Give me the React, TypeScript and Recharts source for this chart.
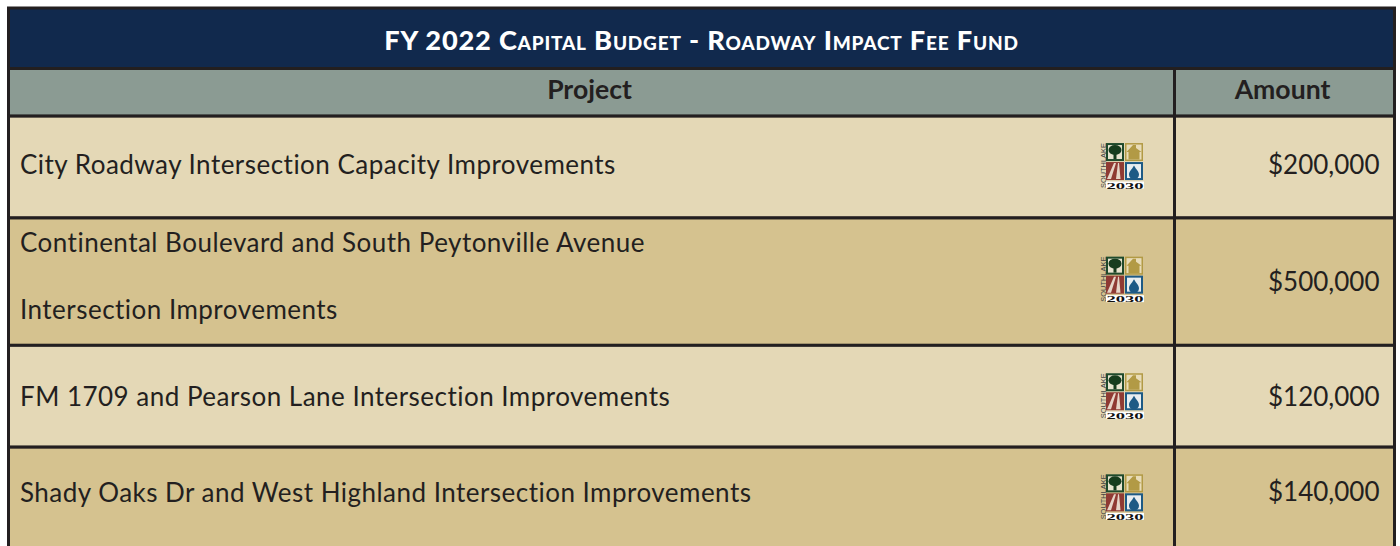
import { BarChart, Bar, XAxis, YAxis } from 'recharts';

const tableTitle = 'FY 2022 Capital Budget - Roadway Impact Fee Fund';
const columns = ['Project', 'Amount'];
const projects = [
  ['City Roadway Intersection Capacity Improvements'],
  ['Continental Boulevard and South Peytonville Avenue', 'Intersection Improvements'],
  ['FM 1709 and Pearson Lane Intersection Improvements'],
  ['Shady Oaks Dr and West Highland Intersection Improvements'],
];
const amounts = [200000, 500000, 120000, 140000];

// layout, not data
const TITLE_H = 60.5;
const HEAD_H = 47.5;
const ROW_H = [101.5, 127, 101.5, 110];
const TEXT_DY = [-2, -5, 1, -9];
const AMOUNT_DY = [-2, 0, 1, -10];
const LOGO_DY = [-1, -2, 0, -5];
const LINE_GAP = 67;

const INK = '#231f20';
const FONT = 'Lato, sans-serif';
const BODY_SIZE = 26;
const fmtUSD = (n: number) => `$${n.toLocaleString('en-US')}`;

const keys = ['head', 'r0', 'r1', 'r2', 'r3'];
const rowData = [
  Object.fromEntries(keys.map((k, i) => [k, i === 0 ? HEAD_H : ROW_H[i - 1]])),
];
const bodyTotal = HEAD_H + ROW_H.reduce((a, b) => a + b, 0);

function Logo({ x, y }: { x: number; y: number }) {
  return (
    <g transform={`translate(${x},${y})`}>
      <text transform="translate(5.5,45) rotate(-90)" fontFamily="Liberation Sans" fontSize={7.5} fill="#444" textLength={45} lengthAdjust="spacingAndGlyphs">
        SOUTHLAKE
      </text>
      <rect x={7} y={1} width={16} height={16} fill="#e8e4cf" stroke="#1f4a2c" strokeWidth={2} />
      <ellipse cx={15} cy={7} rx={6.5} ry={5} fill="#173d1e" />
      <rect x={13.5} y={10} width={3} height={6} fill="#173d1e" />
      <rect x={25} y={0} width={18} height={18} fill="#b29a45" />
      <rect x={26.5} y={1.5} width={15} height={15} fill="#e8dcb8" />
      <path d="M26.5 9L33 2H36V5L41.5 9H39.5V16.5H28.5V9Z" fill="#b29a45" />
      <rect x={6} y={19} width={18} height={18} fill="#8f3a33" />
      <path d="M7 36L14 20H16L11 36Z" fill="#e6d6c8" />
      <path d="M16 36L18 20H19L20.5 36Z" fill="#e6d6c8" />
      <rect x={26} y={20} width={16} height={16} fill="#e9eef0" stroke="#1d5a85" strokeWidth={2} />
      <path d="M34 22.5C36.5 27 39 28.5 39 31.5A5 5 0 0 1 29 31.5C29 28.5 31.5 27 34 22.5Z" fill="#1d5a85" />
      <rect x={6} y={38.5} width={38} height={7} fill="#fff" />
      <text x={6.5} y={45.5} fontFamily="Liberation Serif" fontWeight={700} fontSize={9} fill="#111" textLength={37} lengthAdjust="spacingAndGlyphs">
        2030
      </text>
    </g>
  );
}

function cell(fill: string, render: (b: { x: number; y: number; w: number; h: number }) => any) {
  return (p: any) => {
    const y = Math.min(p.y, p.y + p.height);
    const h = Math.abs(p.height);
    return (
      <g>
        <rect x={p.x} y={y} width={p.width} height={h} fill={fill} stroke={INK} strokeWidth={3} />
        {render({ x: p.x, y, w: p.width, h })}
      </g>
    );
  };
}

const headText = (label: string) => (b: any) => (
  <text x={b.x + b.w / 2 - 2} y={b.y + b.h / 2 + 7} textAnchor="middle" fontFamily={FONT} fontWeight={700} fontSize={26.6} fill={INK}>
    {label}
  </text>
);

function ProjectColumn() {
  return (
    <BarChart width={1180} height={bodyTotal + 70} data={rowData} margin={{ top: 68.5, right: 5.5, bottom: 0, left: 8.5 }} barCategoryGap={0}>
      <XAxis type="category" hide />
      <YAxis type="number" hide reversed domain={[0, bodyTotal]} />
      <Bar dataKey="head" stackId="t" isAnimationActive={false} shape={cell('#8b9b93', headText(columns[0]))} />
      {projects.map((lines, i) => (
        <Bar
          key={i}
          dataKey={`r${i}`}
          stackId="t"
          isAnimationActive={false}
          shape={cell(i % 2 ? '#d5c28f' : '#e4d8b6', (b) => {
            const mid = b.y + b.h / 2;
            return (
              <g>
                {lines.map((ln, j) => (
                  <text
                    key={j}
                    x={20}
                    y={mid + 9 + TEXT_DY[i] + (j - (lines.length - 1) / 2) * LINE_GAP}
                    fontFamily={FONT}
                    fontSize={BODY_SIZE}
                    letterSpacing={0.48}
                    fill={INK}
                  >
                    {ln}
                  </text>
                ))}
                <Logo x={1100} y={mid - 23 + LOGO_DY[i]} />
              </g>
            );
          })}
        />
      ))}
    </BarChart>
  );
}

function AmountColumn() {
  return (
    <BarChart width={230} height={bodyTotal + 70} data={rowData} margin={{ top: 68.5, right: 5.5, bottom: 0, left: 4.5 }} barCategoryGap={0}>
      <XAxis type="category" hide />
      <YAxis type="number" hide reversed domain={[0, bodyTotal]} />
      <Bar dataKey="head" stackId="t" isAnimationActive={false} shape={cell('#8b9b93', headText(columns[1]))} />
      {amounts.map((amt, i) => (
        <Bar
          key={i}
          dataKey={`r${i}`}
          stackId="t"
          isAnimationActive={false}
          shape={cell(i % 2 ? '#d5c28f' : '#e4d8b6', (b) => (
            <text x={b.x + b.w - 15} y={b.y + b.h / 2 + 9 + AMOUNT_DY[i]} textAnchor="end" fontFamily={FONT} fontSize={BODY_SIZE} fill={INK}>
              {fmtUSD(amt)}
            </text>
          ))}
        />
      ))}
    </BarChart>
  );
}

function TitleBar() {
  return (
    <BarChart width={1400} height={80} data={[{ v: TITLE_H }]} margin={{ top: 8, right: 5.5, bottom: 0, left: 8.5 }} barCategoryGap={0}>
      <XAxis type="category" hide />
      <YAxis type="number" hide reversed domain={[0, 72]} />
      <Bar
        dataKey="v"
        isAnimationActive={false}
        shape={cell('#11294d', (b) => (
          <text x={b.x + b.w / 2} y={b.y + b.h / 2 + 12} textAnchor="middle" fontFamily={FONT} fontWeight={900} fontSize={27.2} letterSpacing={0.8} fill="#fff" style={{ fontVariant: 'small-caps' }}>
            {tableTitle}
          </text>
        ))}
      />
    </BarChart>
  );
}

export default function App() {
  return (
    <div style={{ position: 'fixed', left: 0, top: 0, width: 1400, height: 546, overflow: 'hidden', background: '#fff' }}>
      <div style={{ position: 'absolute', left: 0, top: 0 }}><ProjectColumn /></div>
      <div style={{ position: 'absolute', left: 1170, top: 0 }}><AmountColumn /></div>
      <div style={{ position: 'absolute', left: 0, top: 0 }}><TitleBar /></div>
    </div>
  );
}
